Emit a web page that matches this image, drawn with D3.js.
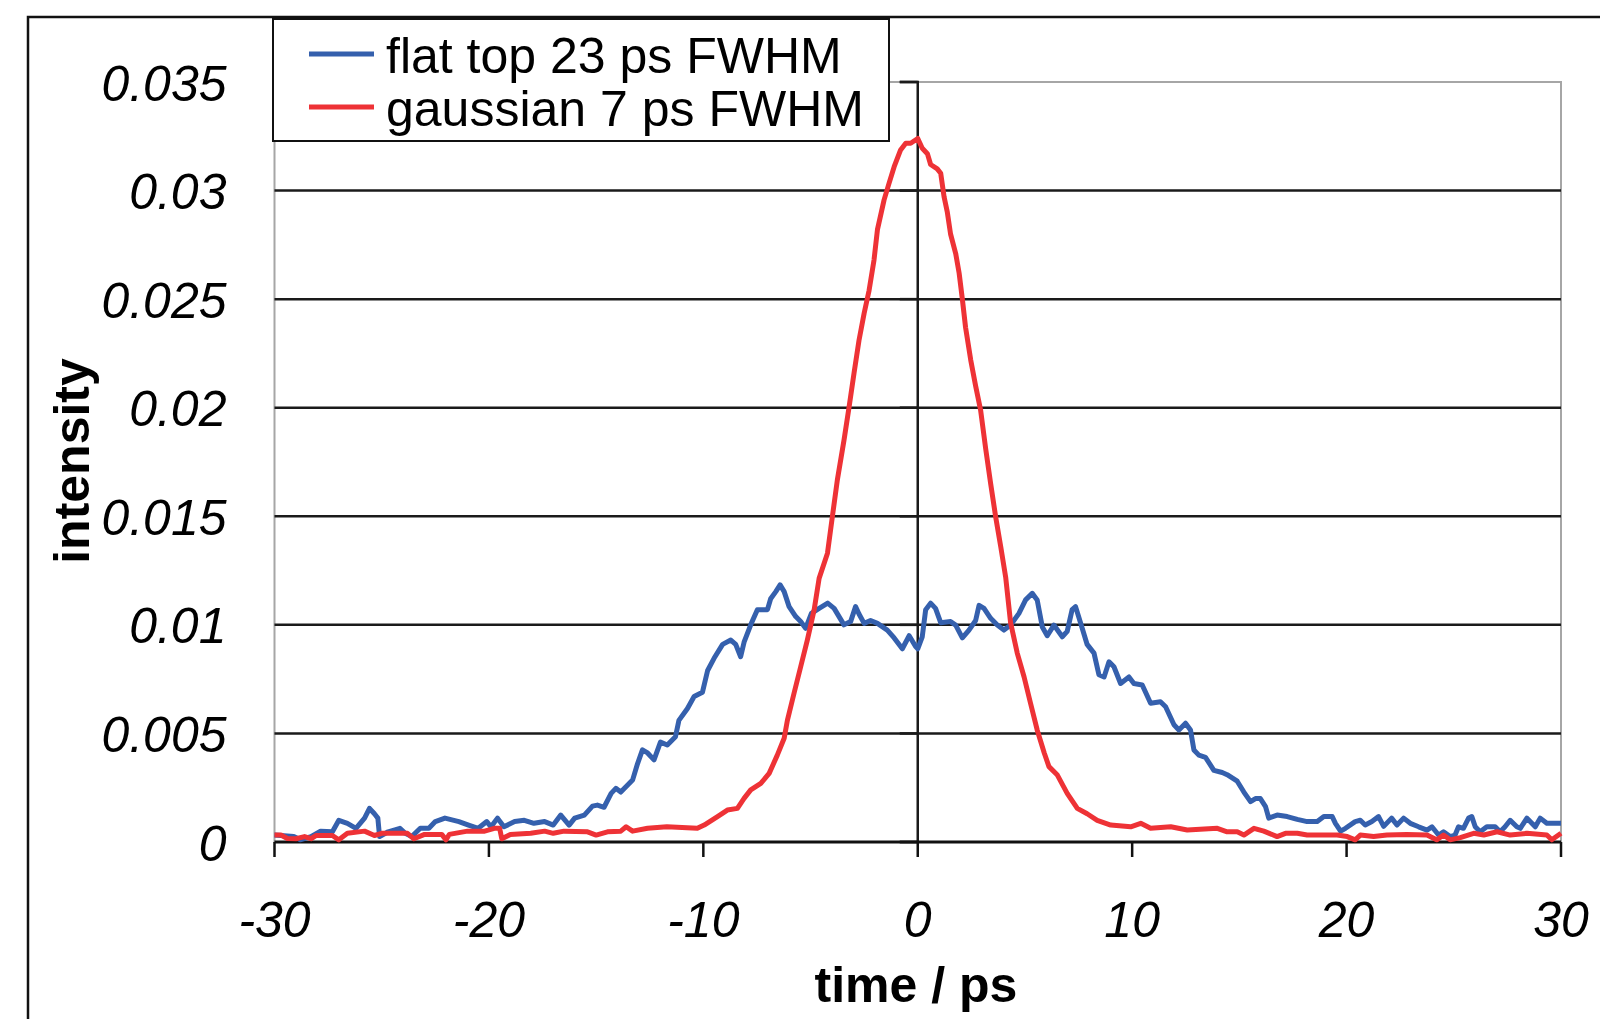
<!DOCTYPE html>
<html>
<head>
<meta charset="utf-8">
<script src="https://cdn.jsdelivr.net/npm/d3@7"></script>
<style>
  html, body { margin: 0; padding: 0; background: #fff; }
  svg { display: block; font-family: "Liberation Sans", Arial, sans-serif; }
</style>
</head>
<body>
<div id="chart"></div>
<script>
// axis ticks
const xTicks = [-30, -20, -10, 0, 10, 20, 30];
const yTicks = [0, 0.005, 0.01, 0.015, 0.02, 0.025, 0.03, 0.035];
const yTickLabels = ["0", "0.005", "0.01", "0.015", "0.02", "0.025", "0.03", "0.035"];

// series names
const seriesNames = ["flat top 23 ps FWHM", "gaussian 7 ps FWHM"];

// flat top pulse
const flatTime = [-30, -29.1, -28.8, -28.3, -27.85, -27.3, -27, -26.6, -26.2, -25.8, -25.57, -25.34, -25.18, -25.1,
  -24.7, -24.15, -23.9, -23.6, -23.2, -22.8, -22.5, -22.05, -21.4, -20.95, -20.5, -20.1, -19.9, -19.6, -19.3,
  -18.8, -18.35, -17.9, -17.4, -17, -16.65, -16.26, -16, -15.55, -15.17, -14.94, -14.63, -14.3, -14.08, -13.85,
  -13.3, -13.07, -12.84, -12.6, -12.3, -12, -11.68, -11.3, -11.14, -10.74, -10.43, -10.04, -9.8, -9.5, -9.1,
  -8.72, -8.49, -8.26, -8.1, -7.79, -7.48, -7.01, -6.86, -6.62, -6.42, -6.23, -6, -5.69, -5.46, -5.23, -4.96,
  -4.6, -4.2, -3.9, -3.44, -3.13, -2.9, -2.74, -2.5, -2.2, -1.88, -1.42, -1.1, -0.72, -0.4, -0.1, 0, 0.21, 0.37,
  0.6, 0.83, 1.07, 1.53, 1.77, 2.08, 2.39, 2.7, 2.86, 3.09, 3.4, 3.71, 4.02, 4.33, 4.72, 5.03, 5.34, 5.57, 5.81,
  6.04, 6.35, 6.74, 6.97, 7.2, 7.36, 7.67, 7.9, 8.22, 8.45, 8.69, 8.92, 9.15, 9.46, 9.85, 10.08, 10.47, 10.86,
  11.32, 11.56, 11.95, 12.18, 12.49, 12.72, 12.88, 13.11, 13.42, 13.81, 14.2, 14.43, 14.9, 15.21, 15.52, 15.75,
  15.98, 16.22, 16.37, 16.76, 17.23, 17.7, 18.16, 18.63, 18.94, 19.33, 19.48, 19.72, 19.95, 20.4, 20.64, 20.87,
  21.18, 21.49, 21.73, 22.1, 22.35, 22.66, 22.97, 23.36, 23.75, 23.98, 24.29, 24.52, 24.83, 25.06, 25.22, 25.45,
  25.69, 25.84, 26, 26.23, 26.54, 26.93, 27.16, 27.39, 27.63, 27.94, 28.1, 28.41, 28.64, 28.8, 29.03, 29.34, 30];
const flatIntensity = [0.00032, 0.00025, 0.0001, 0.00025, 0.0005, 0.00047, 0.001, 0.00086, 0.00063, 0.0011, 0.00155,
  0.0013, 0.0011, 0.00025, 0.00047, 0.00063, 0.0004, 0.00025, 0.00063, 0.00063, 0.00094, 0.0011, 0.00094, 0.00078,
  0.00063, 0.00094, 0.0007, 0.0011, 0.0007, 0.00094, 0.001, 0.00086, 0.00094, 0.00078, 0.00124, 0.00078, 0.0011,
  0.00124, 0.00165, 0.0017, 0.0016, 0.00224, 0.00247, 0.0023, 0.00285, 0.0036, 0.00424, 0.0041, 0.00378, 0.0046,
  0.00447, 0.00485, 0.0056, 0.00615, 0.0067, 0.0069, 0.0079, 0.00846, 0.0091, 0.0093, 0.0091, 0.00853, 0.0092,
  0.01, 0.0107, 0.0107, 0.0112, 0.01153, 0.01184, 0.01153, 0.01084, 0.01038, 0.01015, 0.00984, 0.01053, 0.01076,
  0.011, 0.01076, 0.01, 0.01015, 0.01084, 0.0105, 0.01007, 0.0102, 0.01007, 0.00976, 0.0094, 0.0089, 0.0095,
  0.009, 0.0089, 0.00945, 0.0107, 0.011, 0.01076, 0.0101, 0.01015, 0.00999, 0.0094, 0.00976, 0.0102, 0.0109,
  0.01076, 0.0103, 0.00999, 0.00976, 0.00999, 0.01053, 0.01115, 0.01145, 0.01115, 0.0099, 0.0095, 0.00999,
  0.00945, 0.0097, 0.0107, 0.01084, 0.00984, 0.0091, 0.0087, 0.0077, 0.0076, 0.0083, 0.00807, 0.0073, 0.0076,
  0.0073, 0.00723, 0.00639, 0.00646, 0.00623, 0.0054, 0.00516, 0.00547, 0.00516, 0.00424, 0.004, 0.0039, 0.0033,
  0.0032, 0.0031, 0.0028, 0.0023, 0.00186, 0.002, 0.002, 0.00163, 0.0011, 0.00124, 0.00117, 0.00104, 0.00094,
  0.00094, 0.00117, 0.00117, 0.00086, 0.0005, 0.00063, 0.00094, 0.001, 0.00078, 0.00094, 0.00117, 0.00072, 0.0011,
  0.00078, 0.0011, 0.00086, 0.0007, 0.00055, 0.0007, 0.00032, 0.00047, 0.00025, 0.00032, 0.0007, 0.00063, 0.0011,
  0.00117, 0.0007, 0.00047, 0.0007, 0.0007, 0.00047, 0.0007, 0.001, 0.0007, 0.00063, 0.0011, 0.00086, 0.0007,
  0.0011, 0.00086, 0.00086];

// gaussian pulse
const gaussTime = [-30, -29.7, -29.4, -29, -28.6, -28.3, -28.05, -27.3, -27, -26.6, -25.8, -25.34, -25, -23.8, -23.5,
  -23, -22.2, -22, -21.85, -21, -20.2, -19.75, -19.5, -19.4, -19, -18.05, -17.4, -17, -16.5, -15.4, -15, -14.47,
  -13.85, -13.6, -13.3, -12.6, -11.7, -10.28, -9.96, -9.34, -8.88, -8.41, -8.1, -7.79, -7.32, -6.93, -6.55, -6.23,
  -6.08, -5.77, -5.46, -5.15, -4.83, -4.6, -4.21, -3.98, -3.75, -3.44, -3.2, -2.97, -2.74, -2.5, -2.27, -2.04,
  -1.88, -1.57, -1.34, -1.1, -0.8, -0.56, -0.33, 0, 0.21, 0.45, 0.6, 0.91, 1.07, 1.23, 1.38, 1.53, 1.77, 1.93,
  2.08, 2.23, 2.47, 2.7, 2.93, 3.17, 3.4, 3.63, 3.87, 4.1, 4.33, 4.64, 4.96, 5.26, 5.57, 5.9, 6.12, 6.5, 6.97,
  7.44, 7.9, 8.37, 9, 9.93, 10.4, 10.86, 11.8, 12.57, 13.97, 14.43, 14.9, 15.21, 15.68, 16.14, 16.76, 17.15, 17.7,
  18.16, 19.56, 20.03, 20.4, 20.64, 21.26, 21.88, 22.81, 23.75, 24.2, 24.52, 24.83, 25.3, 25.93, 26.4, 27.02,
  27.63, 28.41, 29.34, 29.57, 30];
const gaussIntensity = [0.00032, 0.00032, 0.00016, 0.00015, 0.00025, 0.00015, 0.0003, 0.0003, 0.0001, 0.0004, 0.0005,
  0.0003, 0.0004, 0.0004, 0.00015, 0.00035, 0.00035, 0.0001, 0.00035, 0.0005, 0.0005, 0.00063, 0.00063, 0.00015,
  0.00035, 0.0004, 0.0005, 0.0004, 0.0005, 0.00047, 0.00032, 0.00047, 0.0005, 0.0007, 0.0005, 0.00063, 0.0007,
  0.00063, 0.00078, 0.00117, 0.00147, 0.00155, 0.00201, 0.0024, 0.0027, 0.00316, 0.004, 0.00478, 0.0056, 0.00685,
  0.00807, 0.0093, 0.0107, 0.01214, 0.0133, 0.015, 0.01667, 0.0185, 0.02005, 0.0216, 0.0231, 0.02435, 0.0254,
  0.0268, 0.0282, 0.02957, 0.03033, 0.0311, 0.03187, 0.03218, 0.03218, 0.0324, 0.03195, 0.0317, 0.0312, 0.031,
  0.0308, 0.0297, 0.029, 0.028, 0.0271, 0.0262, 0.025, 0.0237, 0.0222, 0.021, 0.0199, 0.0181, 0.0165, 0.015,
  0.0136, 0.0122, 0.0101, 0.0087, 0.0076, 0.00639, 0.00516, 0.0041, 0.00347, 0.0031, 0.00224, 0.00155, 0.0013,
  0.001, 0.00078, 0.0007, 0.00086, 0.00063, 0.0007, 0.00055, 0.00063, 0.00047, 0.00047, 0.00032, 0.00063, 0.0005,
  0.00025, 0.0004, 0.0004, 0.00032, 0.00032, 0.00025, 0.0001, 0.00032, 0.00025, 0.00032, 0.00035, 0.00032, 0.0001,
  0.00032, 0.0001, 0.0002, 0.0004, 0.00032, 0.00047, 0.00032, 0.0004, 0.00032, 0.0001, 0.0004];

const width = 1600, height = 1019;
const plot = { left: 274.5, right: 1561, top: 82, bottom: 842 };

const svg = d3.select("#chart").append("svg")
    .attr("width", width)
    .attr("height", height);

svg.append("rect").attr("width", width).attr("height", height).attr("fill", "#fff");

// outer chart border (runs off the right and bottom edges)
svg.append("rect")
    .attr("x", 28).attr("y", 17)
    .attr("width", 1700).attr("height", 1100)
    .attr("fill", "none").attr("stroke", "#111").attr("stroke-width", 2.5);

const x = d3.scaleLinear().domain([-30, 30]).range([plot.left, plot.right]);
const y = d3.scaleLinear().domain([0, 0.035]).range([plot.bottom, plot.top]);

// plot area border
svg.append("rect")
    .attr("x", plot.left).attr("y", plot.top)
    .attr("width", plot.right - plot.left).attr("height", plot.bottom - plot.top)
    .attr("fill", "none").attr("stroke", "#a6a6a6").attr("stroke-width", 2);

// horizontal gridlines
svg.append("g")
  .selectAll("line")
  .data(yTicks.filter(v => v > 0 && v < 0.035))
  .join("line")
    .attr("x1", plot.left).attr("x2", plot.right)
    .attr("y1", d => y(d)).attr("y2", d => y(d))
    .attr("stroke", "#1a1a1a").attr("stroke-width", 2.5);

// y tick labels at the left side
const yLabels = svg.append("g")
    .attr("transform", `translate(${plot.left},0)`)
    .call(d3.axisLeft(y).tickValues(yTicks).tickSize(0).tickPadding(48)
      .tickFormat((d, i) => yTickLabels[i]));
yLabels.select(".domain").remove();
yLabels.selectAll("text")
    .attr("font-size", 50).attr("font-style", "italic")
    .attr("font-family", "'Liberation Sans', Arial, sans-serif")
    .attr("fill", "#000").attr("dy", "0.36em");

// vertical axis crossing at time 0
const yAxis = svg.append("g")
    .attr("transform", `translate(${x(0)},0)`)
    .call(d3.axisLeft(y).offset(0).tickValues(yTicks).tickSize(18).tickFormat(""));
yAxis.select(".domain").attr("stroke", "#1a1a1a").attr("stroke-width", 2.5);
yAxis.selectAll(".tick line").attr("stroke", "#1a1a1a").attr("stroke-width", 2.5);

// x axis
const xAxis = svg.append("g")
    .attr("transform", `translate(0,${plot.bottom})`)
    .call(d3.axisBottom(x).offset(0).tickValues(xTicks).tickSize(15).tickSizeOuter(0).tickFormat(d => d));
xAxis.select(".domain").attr("stroke", "#111").attr("stroke-width", 3);
xAxis.selectAll(".tick line").attr("stroke", "#111").attr("stroke-width", 2.5);
xAxis.selectAll("text")
    .attr("font-size", 50).attr("font-style", "italic")
    .attr("font-family", "'Liberation Sans', Arial, sans-serif")
    .attr("fill", "#000").attr("y", 95).attr("dy", 0);

// series
const line = d3.line().x(d => x(d[0])).y(d => y(d[1]));
const flatData = flatTime.map((t, i) => [t, flatIntensity[i]]);
const gaussData = gaussTime.map((t, i) => [t, gaussIntensity[i]]);
const colors = ["#3560ad", "#ee3236"];

svg.append("path").datum(flatData)
    .attr("d", line).attr("fill", "none")
    .attr("stroke", colors[0]).attr("stroke-width", 5).attr("stroke-linejoin", "round");
svg.append("path").datum(gaussData)
    .attr("d", line).attr("fill", "none")
    .attr("stroke", colors[1]).attr("stroke-width", 5).attr("stroke-linejoin", "round");

// axis titles
svg.append("text")
    .attr("x", 916).attr("y", 1002)
    .attr("text-anchor", "middle")
    .attr("font-size", 50).attr("font-weight", "bold")
    .text("time / ps");
svg.append("text")
    .attr("transform", "translate(89,461) rotate(-90)")
    .attr("text-anchor", "middle")
    .attr("font-size", 50).attr("font-weight", "bold")
    .text("intensity");

// legend
const legend = svg.append("g");
legend.append("rect")
    .attr("x", 273).attr("y", 19).attr("width", 616).attr("height", 122)
    .attr("fill", "#fff").attr("stroke", "#111").attr("stroke-width", 2);
seriesNames.forEach((name, i) => {
  const ly = 54 + i * 53;
  legend.append("line")
      .attr("x1", 309).attr("x2", 374).attr("y1", ly).attr("y2", ly)
      .attr("stroke", colors[i]).attr("stroke-width", 5);
  legend.append("text")
      .attr("x", 386).attr("y", ly + 19)
      .attr("font-size", 50)
      .text(name);
});
</script>
</body>
</html>
